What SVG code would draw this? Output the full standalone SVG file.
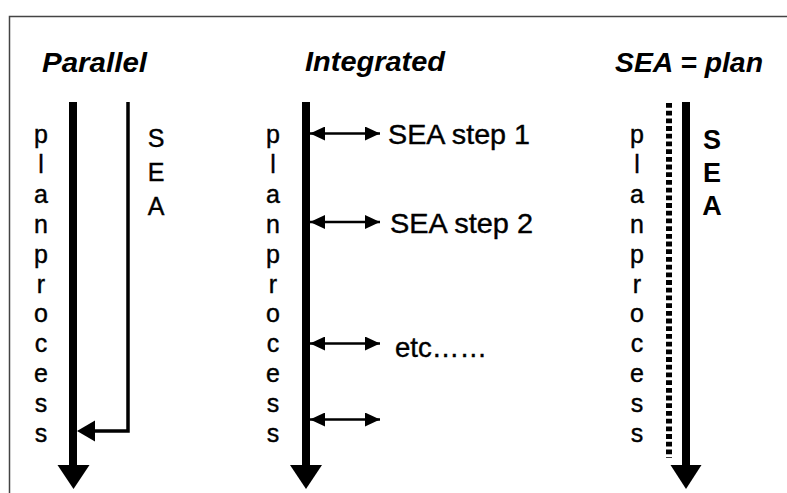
<svg xmlns="http://www.w3.org/2000/svg" width="787" height="493" viewBox="0 0 787 493">
<style>
.title{font-family:"Liberation Sans",Arial,sans-serif;font-weight:bold;font-style:italic;font-size:28px;fill:#000}
.lbl{font-family:"Liberation Sans",Arial,sans-serif;font-size:28px;fill:#000;stroke:#000;stroke-width:0.4}
.v{font-family:"Liberation Sans",Arial,sans-serif;font-size:25px;fill:#000;stroke:#000;stroke-width:0.4;text-anchor:middle}
.vb{font-family:"Liberation Sans",Arial,sans-serif;font-size:27px;font-weight:bold;fill:#000;text-anchor:middle}
.thick{stroke:#000;stroke-width:8;fill:none}
.thin{stroke:#000;stroke-width:2.5;fill:none}
.dot{stroke:#000;stroke-width:6;fill:none;stroke-dasharray:4.8 2.9}
</style>
<defs>
<marker id="ah" markerUnits="userSpaceOnUse" markerWidth="16" markerHeight="14" refX="15" refY="7" orient="auto-start-reverse">
<path d="M0,0 L15,7 L0,14 Z" fill="#000"/>
</marker>
</defs>
<rect width="787" height="493" fill="#fff"/>
<path d="M9.5,493 V16.5 H787" stroke="#444" stroke-width="1.5" fill="none"/>

<g id="title-parallel"><text class="title" x="42" y="72" textLength="105" lengthAdjust="spacingAndGlyphs">Parallel</text></g>
<g id="title-integrated"><text class="title" x="305" y="71" textLength="140" lengthAdjust="spacingAndGlyphs">Integrated</text></g>
<g id="title-seaplan"><text class="title" x="615" y="72" textLength="148" lengthAdjust="spacingAndGlyphs">SEA = plan</text></g>

<g id="planprocess-1">
<text class="v" x="41"><tspan x="41" y="143">p</tspan><tspan x="41" y="172.9">l</tspan><tspan x="41" y="202.8">a</tspan><tspan x="41" y="232.7">n</tspan><tspan x="41" y="262.6">p</tspan><tspan x="41" y="292.5">r</tspan><tspan x="41" y="322.4">o</tspan><tspan x="41" y="352.3">c</tspan><tspan x="41" y="382.2">e</tspan><tspan x="41" y="412.1">s</tspan><tspan x="41" y="442">s</tspan></text>
</g>
<g id="sea-1">
<text class="v" x="156"><tspan x="156" y="147">S</tspan><tspan x="156" y="181">E</tspan><tspan x="156" y="214.5">A</tspan></text>
</g>

<g id="planprocess-2">
<text class="v" x="273"><tspan x="273" y="143">p</tspan><tspan x="273" y="172.9">l</tspan><tspan x="273" y="202.8">a</tspan><tspan x="273" y="232.7">n</tspan><tspan x="273" y="262.6">p</tspan><tspan x="273" y="292.5">r</tspan><tspan x="273" y="322.4">o</tspan><tspan x="273" y="352.3">c</tspan><tspan x="273" y="382.2">e</tspan><tspan x="273" y="412.1">s</tspan><tspan x="273" y="442">s</tspan></text>
</g>
<g id="step1"><text class="lbl" x="388" y="144" textLength="142" lengthAdjust="spacingAndGlyphs">SEA step 1</text></g>
<g id="step2"><text class="lbl" x="390" y="233" textLength="143" lengthAdjust="spacingAndGlyphs">SEA step 2</text></g>
<g id="etc"><text class="lbl" x="395" y="356.5" textLength="92" lengthAdjust="spacingAndGlyphs">etc……</text></g>

<g id="planprocess-3">
<text class="v" x="637"><tspan x="637" y="143">p</tspan><tspan x="637" y="172.9">l</tspan><tspan x="637" y="202.8">a</tspan><tspan x="637" y="232.7">n</tspan><tspan x="637" y="262.6">p</tspan><tspan x="637" y="292.5">r</tspan><tspan x="637" y="322.4">o</tspan><tspan x="637" y="352.3">c</tspan><tspan x="637" y="382.2">e</tspan><tspan x="637" y="412.1">s</tspan><tspan x="637" y="442">s</tspan></text>
</g>
<g id="sea-3">
<text class="vb" x="712"><tspan x="712" y="149">S</tspan><tspan x="712" y="182">E</tspan><tspan x="712" y="215">A</tspan></text>
</g>

<g id="connectors">
<line class="thick" x1="73" y1="102" x2="73" y2="466"/>
<polygon points="57.5,465 89.5,465 73.5,489" fill="#000"/>
<polyline points="128,102 128,431 95,431" stroke="#000" stroke-width="3.5" fill="none"/>
<polygon points="77,431 95,420.5 95,441.5" fill="#000"/>

<line class="thick" x1="306" y1="102" x2="306" y2="466"/>
<polygon points="290,465 322,465 306,489" fill="#000"/>
<line class="thin" x1="310" y1="133.5" x2="380" y2="133.5" marker-start="url(#ah)" marker-end="url(#ah)"/>
<line class="thin" x1="310" y1="222" x2="380" y2="222" marker-start="url(#ah)" marker-end="url(#ah)"/>
<line class="thin" x1="310" y1="343.5" x2="380" y2="343.5" marker-start="url(#ah)" marker-end="url(#ah)"/>
<line class="thin" x1="310" y1="419.5" x2="380" y2="419.5" marker-start="url(#ah)" marker-end="url(#ah)"/>

<line class="dot" x1="669" y1="103" x2="669" y2="458"/>
<line class="thick" x1="686" y1="102" x2="686" y2="466"/>
<polygon points="670.5,465 701.5,465 686,489" fill="#000"/>
</g>
</svg>
